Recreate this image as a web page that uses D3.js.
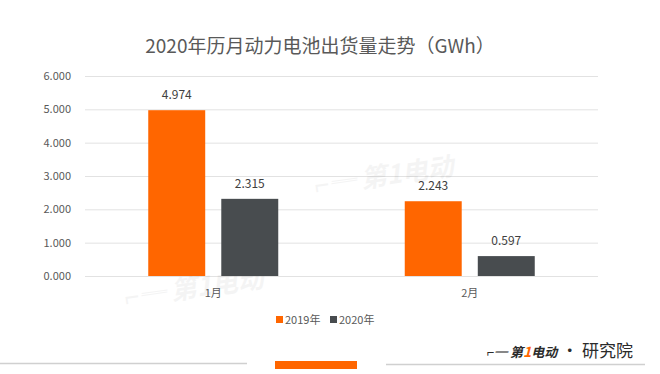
<!DOCTYPE html>
<html>
<head>
<meta charset="utf-8">
<script src="https://cdn.jsdelivr.net/npm/d3@7"></script>
<style>
  body { margin: 0; background: #fff; }
  svg { display: block; font-family: "Noto Sans CJK SC", "Noto Sans", sans-serif; }
</style>
</head>
<body>
<svg id="chart" width="660" height="374"></svg>
<script>
// chart data
const months = ["1月", "2月"];
const series = ["2019年", "2020年"];
const values2019 = [4.974, 2.243];
const values2020 = [2.315, 0.597];
const yTicks = [0, 1, 2, 3, 4, 5, 6];
const title = "2020年历月动力电池出货量走势（GWh）";

const colors = ["#ff6600", "#484c4f"];

const svg = d3.select("#chart");

const x = d3.scaleBand()
  .domain(months)
  .range([85, 598]);

const xInner = d3.scaleBand()
  .domain(series)
  .range([0, 130])
  .paddingInner(0.22);

const y = d3.scaleLinear()
  .domain([0, 6])
  .range([276, 76]);

// title
svg.append("text")
  .attr("x", 320)
  .attr("y", 53)
  .attr("text-anchor", "middle")
  .style("font-size", "19px")
  .style("fill", "#595959")
  .text(title);

// gridlines
svg.append("g")
  .selectAll("line")
  .data(yTicks)
  .join("line")
  .attr("x1", 85)
  .attr("x2", 598)
  .attr("y1", d => y(d) + 0.5)
  .attr("y2", d => y(d) + 0.5)
  .style("stroke", "#e2e2e2")
  .style("stroke-width", 1);

// y axis labels
const yAxis = d3.axisLeft(y)
  .tickValues(yTicks)
  .tickFormat(d3.format(".3f"))
  .tickSize(0)
  .tickPadding(0);

svg.append("g")
  .attr("transform", "translate(71,0)")
  .call(yAxis)
  .call(g => g.select(".domain").remove())
  .call(g => g.selectAll("text")
    .style("font-size", "11px")
    .style("fill", "#595959")
    .style("font-family", "'Noto Sans CJK SC', sans-serif"));

// faint watermarks
const marks = [[385, 185, -8], [195, 297, -8]];
svg.append("g")
  .selectAll("text")
  .data(marks)
  .join("text")
  .attr("transform", d => `translate(${d[0]},${d[1]}) rotate(${d[2]})`)
  .attr("text-anchor", "middle")
  .style("font-size", "26px")
  .style("font-style", "italic")
  .style("font-weight", "bold")
  .style("fill", "#000")
  .style("opacity", 0.04)
  .text("⌐═ 第1电动");

// bars
const rows = months.map((m, i) => ({
  month: m,
  vals: [
    { key: series[0], value: values2019[i], color: colors[0] },
    { key: series[1], value: values2020[i], color: colors[1] }
  ]
}));

const groups = svg.append("g")
  .selectAll("g")
  .data(rows)
  .join("g")
  .attr("transform", d => `translate(${x(d.month) + x.bandwidth() / 2 - 65},0)`);

groups.selectAll("rect")
  .data(d => d.vals)
  .join("rect")
  .attr("x", d => xInner(d.key))
  .attr("width", xInner.bandwidth())
  .attr("y", d => y(d.value))
  .attr("height", d => y(0) - y(d.value))
  .style("fill", d => d.color);

groups.selectAll("text.val")
  .data(d => d.vals)
  .join("text")
  .attr("class", "val")
  .attr("x", d => xInner(d.key) + xInner.bandwidth() / 2)
  .attr("y", d => y(d.value) - 11)
  .attr("text-anchor", "middle")
  .style("font-size", "12px")
  .style("fill", "#404040")
  .text(d => d3.format(".3f")(d.value));

// x labels
svg.append("g")
  .selectAll("text")
  .data(months)
  .join("text")
  .attr("x", d => x(d) + x.bandwidth() / 2)
  .attr("y", 297)
  .attr("text-anchor", "middle")
  .style("font-size", "11px")
  .style("fill", "#595959")
  .text(d => d);

// legend
const legend = svg.append("g")
  .selectAll("g")
  .data(series)
  .join("g")
  .attr("transform", (d, i) => `translate(${276 + i * 54},320)`);

legend.append("rect")
  .attr("x", 0)
  .attr("y", -4)
  .attr("width", 7)
  .attr("height", 7)
  .style("fill", (d, i) => colors[i]);

legend.append("text")
  .attr("x", 9)
  .attr("y", 4)
  .style("font-size", "11px")
  .style("fill", "#595959")
  .text(d => d);

// footer
svg.append("line")
  .attr("x1", 0).attr("x2", 247)
  .attr("y1", 363.5).attr("y2", 363.5)
  .style("stroke", "#d0d0d0")
  .style("stroke-width", 1.5);

svg.append("line")
  .attr("x1", 386).attr("x2", 645)
  .attr("y1", 364.5).attr("y2", 364.5)
  .style("stroke", "#d0d0d0")
  .style("stroke-width", 1.5);

svg.append("rect")
  .attr("x", 275).attr("y", 361)
  .attr("width", 82).attr("height", 8)
  .style("fill", colors[0]);

const logo = svg.append("text")
  .attr("x", 633)
  .attr("y", 357)
  .attr("text-anchor", "end")
  .style("fill", "#2b2b2b");
logo.append("tspan")
  .style("font-size", "13px")
  .style("font-style", "italic")
  .style("font-weight", "bold")
  .text("⌐═ 第");
logo.append("tspan")
  .style("font-size", "14px")
  .style("font-style", "italic")
  .style("font-weight", "bold")
  .style("fill", colors[0])
  .text("1");
logo.append("tspan")
  .style("font-size", "13px")
  .style("font-style", "italic")
  .style("font-weight", "bold")
  .text("电动");
logo.append("tspan")
  .style("font-size", "17px")
  .text(" · 研究院");
</script>
</body>
</html>
